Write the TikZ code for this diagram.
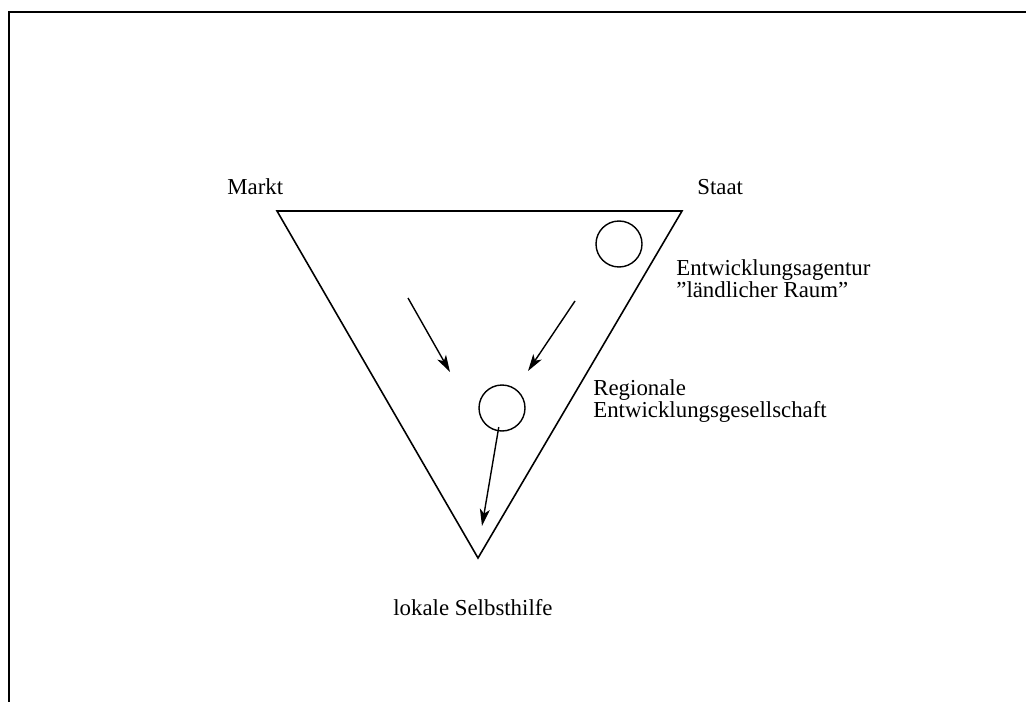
\documentclass[tikz,border=0pt]{standalone}
\usepackage{fontspec}
\setmainfont{Liberation Serif}
\usetikzlibrary{arrows.meta, positioning}

\begin{document}
\begin{tikzpicture}[
    x=0.02cm, y=-0.02cm,
    >={Stealth[length=3.4mm, width=2mm, inset=0.9mm]},
    frame/.style={line width=1.3pt},
    edge/.style={line width=0.9pt, line join=miter},
    actor/.style={circle, draw, line width=0.8pt, minimum size=0.92cm, inner sep=0pt},
    flow/.style={->, line width=0.8pt},
    label/.style={font=\fontsize{13}{12.5}\selectfont, inner sep=0pt, align=left}
]
\useasboundingbox (0,0) rectangle (1026,702);

% Frame (only left and top lines are visible)
\draw[frame] (9,702) -- (9,12) -- (1026,12);

% Corners of the inverted triangle
\coordinate (markt) at (277,211);
\coordinate (staat) at (682,211);
\coordinate (lokal) at (478,558);
\draw[edge] (markt) -- (staat) -- (lokal) -- cycle;

% Actors inside the triangle
\node[actor] (agentur) at (619,244) {};
\node[actor] (regio) at (502,408) {};

% Free ends of the arrows
\coordinate (m1) at (408,298);
\coordinate (m2) at (450,372);
\coordinate (s1) at (575,301);
\coordinate (s2) at (528,371);
\coordinate (l2) at (482,526);

% Arrows
\draw[flow] (m1) -- (m2);
\draw[flow] (s1) -- (s2);
\draw[flow, shorten <=11pt] (regio.center) -- (l2);

% Labels
\node[label, anchor=base west] (tmarkt) at (227,195) {Markt};
\node[label, anchor=base west] (tstaat) at (697,195) {Staat};
\node[label, anchor=base west] (tagentur) at (676,297) {Entwicklungsagentur\\"ländlicher Raum"};
\node[label, anchor=base west] (tregio) at (593,417) {Regionale\\Entwicklungsgesellschaft};
\node[label, anchor=base west] (tlokal) at (393,615) {lokale Selbsthilfe};

\end{tikzpicture}
\end{document}
